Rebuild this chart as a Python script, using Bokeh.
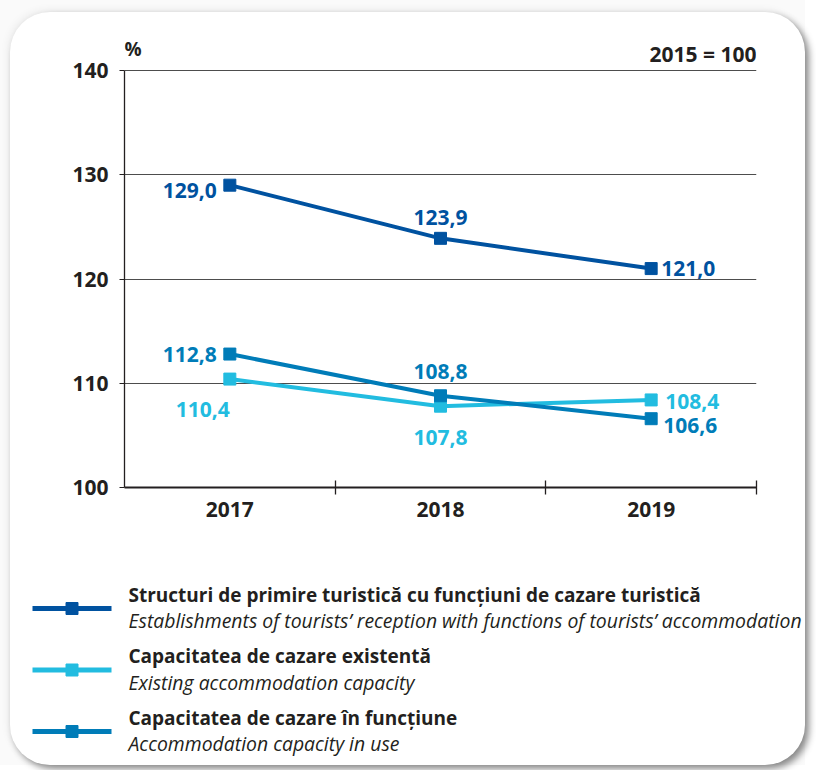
from bokeh.plotting import figure
from bokeh.models import ColumnDataSource, FixedTicker, Range1d, LinearAxis
from bokeh.layouts import column
from bokeh.core.properties import value
from bokeh.embed import file_html
from bokeh.resources import INLINE

# ---------------- data ----------------
years = ["2017", "2018", "2019"]
structuri = [129.0, 123.9, 121.0]
cap_existenta = [110.4, 107.8, 108.4]
cap_functiune = [112.8, 108.8, 106.6]
y_ticks = [100, 110, 120, 130, 140]
unit_label = "%"
base_label = "2015 = 100"

legend_bold = [
    "Structuri de primire turistică cu funcțiuni de cazare turistică",
    "Capacitatea de cazare existentă",
    "Capacitatea de cazare în funcțiune",
]
legend_italic = [
    "Establishments of tourists’ reception with  functions of tourists’ accommodation",
    "Existing accommodation capacity",
    "Accommodation capacity in use",
]

# ---------------- styles / layout (page pixel positions) ----------------
C_DARK = "#0052A0"
C_LIGHT = "#22BCE0"
C_MID = "#007CB8"
TXT = "#231F20"
FONT = "Open Sans"
CARD_X, CARD_Y, CARD_R, CARD_B = 10, 12, 805, 765
CW = CARD_R - CARD_X
FRAME_L, FRAME_R = 124, 756
FRAME_T, FRAME_B = 38, 487      # frame top sits above the 140 line to host the header texts
Y0, Y1 = y_ticks[0], y_ticks[-1]
PX_PER_UNIT = 10.425
Y_TOP = Y1 + (70 - FRAME_T) / PX_PER_UNIT   # headroom above the 140 gridline
CHART_BOTTOM = 537

# label placement per series: (align, x_offset, y_offset)
place = {
    "s1": [("right", -13, 5), ("center", 0, -21), ("left", 10, 0)],
    "s2": [("right", 0, 30), ("center", 0, 31), ("left", 14, 2)],
    "s3": [("right", -13, 0), ("center", 0, -24), ("left", 12, 7)],
}

# ---------------- main chart ----------------
xs = [i + 0.5 for i in range(len(years))]
H1 = CHART_BOTTOM - CARD_Y
p = figure(width=CW, height=H1, output_backend="svg", toolbar_location=None,
           x_range=Range1d(0, len(years)), y_range=Range1d(Y0, Y_TOP),
           min_border_left=FRAME_L - CARD_X, min_border_right=CARD_R - FRAME_R,
           min_border_top=FRAME_T - CARD_Y, min_border_bottom=CHART_BOTTOM - FRAME_B,
           x_axis_location=None, y_axis_location=None)
p.outline_line_color = None
p.background_fill_color = None
p.border_fill_color = None
p.frame_align = False

yax = LinearAxis(ticker=FixedTicker(ticks=y_ticks), bounds=(Y0, Y1))
yax.axis_line_color = TXT
yax.axis_line_width = 1.3
yax.major_tick_line_color = TXT
yax.major_tick_out = 5
yax.major_tick_in = 0
yax.minor_tick_line_color = None
yax.major_label_text_font = FONT
yax.major_label_text_font_style = "bold"
yax.major_label_text_font_size = "21px"
yax.major_label_text_color = TXT
yax.major_label_standoff = 11
p.add_layout(yax, "left")

xax = LinearAxis(ticker=FixedTicker(ticks=xs, minor_ticks=[1, 2, 3]))
xax.major_label_overrides = {x: y for x, y in zip(xs, years)}
xax.axis_line_color = TXT
xax.axis_line_width = 2
xax.major_tick_line_color = None
xax.major_tick_out = 0
xax.major_tick_in = 0
xax.minor_tick_line_color = TXT
xax.minor_tick_line_width = 1.3
xax.minor_tick_in = 7
xax.minor_tick_out = 7
xax.major_label_text_font = FONT
xax.major_label_text_font_style = "bold"
xax.major_label_text_font_size = "21px"
xax.major_label_text_color = TXT
xax.major_label_standoff = 7
p.add_layout(xax, "below")

p.xgrid.visible = False
p.ygrid.ticker = FixedTicker(ticks=y_ticks[1:])
p.ygrid.grid_line_color = "#4d4d4d"
p.ygrid.grid_line_width = 1.2

# header texts, anchored on the top gridline
hsrc = ColumnDataSource(dict(x=[0, len(years)], y=[Y1, Y1], t=[unit_label, base_label],
                             a=["left", "right"], yo=[-22, -17], s=["19px", "21px"]))
p.text(x="x", y="y", text="t", source=hsrc, text_align="a", text_baseline="alphabetic",
       y_offset="yo", text_font=value(FONT), text_font_style="bold", text_font_size="s",
       text_color=TXT)

def fmt(v):
    return f"{v:.1f}".replace(".", ",")

series = [("s1", structuri, C_DARK), ("s2", cap_existenta, C_LIGHT), ("s3", cap_functiune, C_MID)]
for key, vals, col in series:
    p.line(xs, vals, line_color=col, line_width=4)
    p.scatter(xs, vals, marker="square", size=12, fill_color=col, line_color=col)
    src = ColumnDataSource(dict(
        x=xs, y=vals, t=[fmt(v) for v in vals],
        align=[a for a, _, _ in place[key]],
        xo=[o for _, o, _ in place[key]],
        yo=[o for _, _, o in place[key]],
    ))
    p.text(x="x", y="y", text="t", source=src, text_align="align",
           text_baseline="middle", x_offset="xo", y_offset="yo",
           text_font=value(FONT), text_font_style="bold",
           text_font_size="21px", text_color=col)

# ---------------- legend ----------------
LH = CARD_B - CHART_BOTTOM
lg = figure(width=CW, height=LH, output_backend="svg", toolbar_location=None,
            x_range=Range1d(CARD_X, CARD_R), y_range=Range1d(LH, 0),
            min_border=0, x_axis_location=None, y_axis_location=None)
lg.outline_line_color = None
lg.grid.visible = False
lg.background_fill_color = None
lg.border_fill_color = None
lg.frame_align = False

row_y = [71 + 61.5 * i for i in range(len(series))]
for i, (key, vals, col) in enumerate(series):
    lg.line([32, 111], [row_y[i], row_y[i]], line_color=col, line_width=5)
    lg.scatter([71.5], [row_y[i]], marker="square", size=12, fill_color=col, line_color=col)
lsrc = ColumnDataSource(dict(x=[128] * 3, yb=[y - 14 for y in row_y], yi=[y + 12 for y in row_y],
                             b=legend_bold, it=legend_italic))
lg.text(x="x", y="yb", text="b", source=lsrc, text_baseline="middle",
        text_font=value(FONT), text_font_style="bold", text_font_size="19px", text_color=TXT)
lg.text(x="x", y="yi", text="it", source=lsrc, text_baseline="middle",
        text_font=value(FONT), text_font_style="italic", text_font_size="19.4px", text_color=TXT)

card = column(p, lg, spacing=0, margin=(CARD_Y, 0, 0, CARD_X),
              styles={"background-color": "white", "border-radius": "40px",
                      "box-shadow": "4px 4px 7px rgba(0, 0, 0, 0.45), -2px -2px 8px rgba(0, 0, 0, 0.06)"})
layout = column(card, spacing=0, styles={"background-color": "#fafafa"})
open("out.html", "w").write(file_html(layout, INLINE))
